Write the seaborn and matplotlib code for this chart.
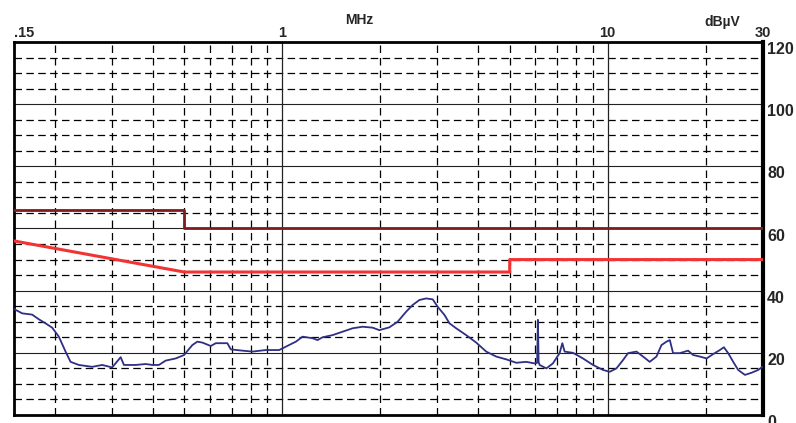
import numpy as np
import pandas as pd
import matplotlib
matplotlib.use('Agg')
import matplotlib.pyplot as plt
import seaborn as sns
from matplotlib.ticker import NullLocator

freq_mhz = [0.150, 0.159, 0.1645, 0.1705, 0.1788, 0.1874, 0.1965, 0.206, 0.216, 0.2238,
            0.2373, 0.2608, 0.280, 0.3004, 0.319, 0.3265, 0.3546, 0.3807, 0.399, 0.418,
            0.4386, 0.471, 0.4995, 0.5297, 0.5487, 0.5685, 0.6034, 0.6252, 0.6786, 0.6953,
            0.7548, 0.810, 0.891, 0.979, 1.014, 1.027, 1.102, 1.155, 1.240, 1.284,
            1.330, 1.428, 1.533, 1.646, 1.766, 1.896, 1.988, 2.134, 2.263, 2.402,
            2.517, 2.640, 2.768, 2.901, 3.005, 3.151, 3.265, 3.423, 3.675, 3.945,
            4.235, 4.545, 4.879, 5.238, 5.621, 5.963, 6.07, 6.104, 6.135, 6.179,
            6.479, 6.787, 7.117, 7.254, 7.374, 7.822, 8.395, 9.013, 9.672, 10.14,
            10.64, 11.15, 11.55, 12.26, 12.84, 13.46, 14.12, 14.63, 15.16, 15.52,
            15.88, 16.65, 17.66, 18.30, 19.19, 20.13, 21.09, 22.11, 22.75, 23.45,
            24.30, 25.17, 26.40, 27.68, 29.01, 29.85]
level_dbuv = [34.1, 32.7, 32.5, 32.3, 30.8, 29.5, 28.1, 25.2, 20.4, 17.1,
              16.1, 15.5, 16.1, 15.3, 18.6, 16.1, 16.1, 16.4, 16.1, 16.1,
              17.5, 18.2, 19.3, 22.5, 23.6, 23.3, 22.2, 23.1, 23.1, 21.1,
              20.7, 20.4, 20.9, 20.9, 21.7, 22.0, 23.6, 25.2, 24.7, 24.1,
              25.0, 25.7, 26.8, 27.9, 28.4, 28.1, 27.3, 28.2, 30.0, 33.2,
              35.4, 37.0, 37.5, 37.2, 34.8, 32.2, 29.5, 27.9, 25.7, 23.3,
              20.4, 18.8, 17.9, 16.8, 17.1, 16.6, 16.8, 30.6, 17.0, 16.1,
              15.0, 16.6, 19.9, 23.1, 20.4, 20.0, 18.2, 16.1, 14.5, 13.9,
              15.0, 17.7, 19.9, 20.4, 18.8, 17.1, 18.8, 22.5, 23.6, 24.1,
              19.9, 19.9, 20.7, 19.3, 18.8, 18.2, 19.6, 20.9, 21.8, 19.9,
              17.1, 14.5, 12.9, 13.6, 14.5, 15.5]

# limit lines
qp_freq = [0.15, 0.5, 0.5, 30]
qp_limit = [66, 66, 60, 60]
av_freq = [0.15, 0.5, 5, 5, 30]
av_limit = [56, 46, 46, 50, 50]

x_ticks = [0.15, 1, 10, 30]
x_tick_labels = ['.15', '1', '10', '30']
y_ticks = [0, 20, 40, 60, 80, 100, 120]
y_tick_labels = ['0', '20', '40', '60', '80', '100', '120']
x_minor = [0.2, 0.3, 0.4, 0.5, 0.6, 0.7, 0.8, 0.9, 2, 3, 4, 5, 6, 7, 8, 9, 20]
y_minor = [v for v in range(5, 120, 5) if v % 20]

sns.set_style('white')
plt.rcParams['font.family'] = ['Liberation Sans', 'DejaVu Sans']

fig = plt.figure(figsize=(7.96, 4.23), dpi=100)
ax = fig.add_axes([14/796, 8/423, 749/796, 373/423])
ax.set_xscale('log')
ax.set_xlim(0.15, 30)
ax.set_ylim(0, 120)

# grid
for y in y_minor:
    ax.axhline(y, color='black', lw=0.9, ls=(0, (6, 3.5)), zorder=1)
for x in x_minor:
    ax.axvline(x, color='black', lw=0.9, ls=(0, (6, 4)), zorder=1)
for y in y_ticks[1:-1]:
    ax.axhline(y, color='#222222', lw=0.8, zorder=1.2)
for x in [1, 10]:
    ax.axvline(x, color='#222222', lw=0.9, zorder=1.2)

trace = pd.DataFrame({'f': freq_mhz, 'dB': level_dbuv})
qp = pd.DataFrame({'f': qp_freq, 'dB': qp_limit})
av = pd.DataFrame({'f': av_freq, 'dB': av_limit})
sns.lineplot(data=qp, x='f', y='dB', sort=False, estimator=None, color='#7e1c1c', lw=2.0, ax=ax, zorder=3)
sns.lineplot(data=av, x='f', y='dB', sort=False, estimator=None, color='#f23333', lw=2.2, ax=ax, zorder=3)
sns.lineplot(data=trace, x='f', y='dB', sort=False, estimator=None, color='#2f2f85', lw=1.3, ax=ax, zorder=4)

ax.set_xlabel('')
ax.set_ylabel('')
ax.xaxis.tick_top()
ax.set_xticks(x_ticks)
ax.set_xticklabels(x_tick_labels, fontsize=10.5, fontweight='bold')
ax.xaxis.set_minor_locator(NullLocator())
ax.get_xticklabels()[0].set_ha('left')
ax.tick_params(axis='x', length=0, pad=1.5)

ax.yaxis.tick_right()
ax.set_yticks(y_ticks)
ax.set_yticklabels(y_tick_labels, fontsize=11.5, fontweight='bold')
for lab in ax.get_yticklabels():
    lab.set_va('top')
ax.tick_params(axis='y', length=0, pad=3)

for side in ['left', 'top', 'bottom']:
    ax.spines[side].set_linewidth(2.0)
    ax.spines[side].set_color('black')
ax.spines['right'].set_linewidth(3.0)
ax.spines['right'].set_color('black')

fig.text(359/796, 1 - 20/423, 'MHz', ha='center', va='center', fontsize=10, fontweight='bold')
fig.text(722/796, 1 - 22/423, 'dBµV', ha='center', va='center', fontsize=10, fontweight='bold')

fig.savefig('out.png', dpi=100)
